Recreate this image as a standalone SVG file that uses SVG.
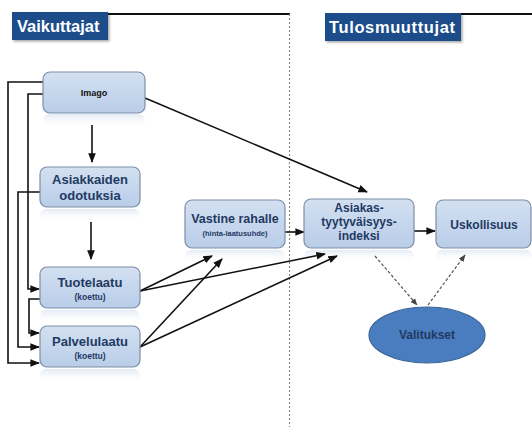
<svg xmlns="http://www.w3.org/2000/svg" width="532" height="427" viewBox="0 0 532 427">
<style>
.node{fill:url(#g);stroke:#7d8ea8;stroke-width:1.2}
.refl{fill:url(#rg)}
.t{font-family:"Liberation Sans",Arial,sans-serif;font-weight:bold;fill:#1f3a63;text-anchor:middle}
.ttl{font-family:"Liberation Sans",Arial,sans-serif;font-weight:bold;fill:#fff;font-size:16.5px}
.c{fill:none;stroke:#111;stroke-width:1.6}
.d{fill:none;stroke:#555;stroke-width:1.2;stroke-dasharray:3 2}
</style>
<defs>
<linearGradient id="g" x1="0" y1="0" x2="0" y2="1"><stop offset="0" stop-color="#d3e0f1"/><stop offset="1" stop-color="#b9cde8"/></linearGradient>
<linearGradient id="rg" x1="0" y1="0" x2="0" y2="1"><stop offset="0" stop-color="#dde6f2" stop-opacity="0.8"/><stop offset="1" stop-color="#fff" stop-opacity="0"/></linearGradient>
<marker id="a" viewBox="0 0 10 10" refX="9" refY="5" markerWidth="6" markerHeight="6" orient="auto"><path d="M0,1 L10,5 L0,9 z" fill="#111"/></marker>
<marker id="ad" viewBox="0 0 10 10" refX="9" refY="5" markerWidth="6" markerHeight="6" orient="auto"><path d="M0,1 L10,5 L0,9 z" fill="#444"/></marker>
<filter id="sh" x="-10%" y="-10%" width="130%" height="140%"><feDropShadow dx="1.5" dy="1.5" stdDeviation="1" flood-color="#000" flood-opacity="0.35"/></filter>
</defs>
<rect width="532" height="427" fill="#fff"/>

<g id="headers">
<line x1="108" y1="14" x2="290" y2="14" stroke="#111" stroke-width="2"/>
<line x1="461" y1="14" x2="532" y2="14" stroke="#111" stroke-width="2"/>
<line x1="289.5" y1="14" x2="289.5" y2="427" stroke="#888" stroke-width="1.2" stroke-dasharray="2 2"/>
<g id="vaikuttajat"><rect x="12" y="12" width="96" height="28" fill="#1e4d8a" filter="url(#sh)"/><text class="ttl" x="17" y="32">Vaikuttajat</text></g>
<g id="tulosmuuttujat"><rect x="325" y="13" width="136" height="28" fill="#1e4d8a" filter="url(#sh)"/><text class="ttl" x="329" y="33" textLength="126">Tulosmuuttujat</text></g>
</g>

<g id="reflections">
<rect class="refl" x="43" y="114" width="102" height="14" rx="6"/>
<rect class="refl" x="40" y="209" width="100" height="12" rx="6"/>
<rect class="refl" x="40" y="310" width="100" height="14" rx="6"/>
<rect class="refl" x="40" y="369" width="100" height="14" rx="6"/>
<rect class="refl" x="185" y="250" width="100" height="12" rx="6"/>
<rect class="refl" x="304" y="250" width="110" height="12" rx="6"/>
<rect class="refl" x="436" y="250" width="96" height="12" rx="6"/>
</g>

<g id="connectors">
<path class="c" d="M43,82 H8 V363 H39" marker-end="url(#a)"/>
<path class="c" d="M43,94 H28 V289 H39" marker-end="url(#a)"/>
<path class="c" d="M40,192 H18 V347 H39" marker-end="url(#a)"/>
<path class="c" d="M40,299 H29 V333 H39" marker-end="url(#a)"/>
<path class="c" d="M92,125 V162" marker-end="url(#a)"/>
<path class="c" d="M91,222 V259" marker-end="url(#a)"/>
<path class="c" d="M145,98 L367,192" marker-end="url(#a)"/>
<path class="c" d="M140,291 L212,256" marker-end="url(#a)"/>
<path class="c" d="M140,347 L222,259" marker-end="url(#a)"/>
<path class="c" d="M140,291 L325,254" marker-end="url(#a)"/>
<path class="c" d="M140,347 L337,256" marker-end="url(#a)"/>
<path class="c" d="M285,232 H304" marker-end="url(#a)"/>
<path class="c" d="M414,231 H435" marker-end="url(#a)"/>
<path class="d" d="M375,256 L417,305" marker-end="url(#ad)"/>
<path class="d" d="M428,305 L465,255" marker-end="url(#ad)"/>
</g>

<g id="imago"><rect class="node" x="43" y="72" width="102" height="41" rx="7"/><text class="t" x="94" y="96" font-size="9" style="fill:#111">Imago</text></g>
<g id="asiakkaiden"><rect class="node" x="40" y="167" width="100" height="40" rx="7"/><text class="t" x="90" y="184" font-size="13">Asiakkaiden</text><text class="t" x="90" y="200" font-size="13">odotuksia</text></g>
<g id="tuotelaatu"><rect class="node" x="40" y="267" width="100" height="41" rx="7"/><text class="t" x="90" y="287" font-size="13">Tuotelaatu</text><text class="t" x="90" y="300" font-size="8.5">(koettu)</text></g>
<g id="palvelulaatu"><rect class="node" x="40" y="326" width="100" height="41" rx="7"/><text class="t" x="90" y="346" font-size="13">Palvelulaatu</text><text class="t" x="90" y="359" font-size="8.5">(koettu)</text></g>
<g id="vastine"><rect class="node" x="185" y="200" width="100" height="48" rx="7"/><text class="t" x="235" y="223" font-size="12.5">Vastine rahalle</text><text class="t" x="235" y="236" font-size="7.5">(hinta-laatusuhde)</text></g>
<g id="asiakas"><rect class="node" x="304" y="199" width="110" height="49" rx="7"/><text class="t" x="359" y="212" font-size="12">Asiakas-</text><text class="t" x="359" y="226" font-size="12">tyytyväisyys-</text><text class="t" x="359" y="240" font-size="12">indeksi</text></g>
<g id="uskollisuus"><rect class="node" x="436" y="200" width="95" height="48" rx="7"/><text class="t" x="484" y="229" font-size="12">Uskollisuus</text></g>
<g id="valitukset"><ellipse cx="427" cy="335" rx="58" ry="28" fill="#4a7dbf" stroke="#3a6296" stroke-width="1.2"/><text class="t" x="427" y="339" font-size="12">Valitukset</text></g>
</svg>
